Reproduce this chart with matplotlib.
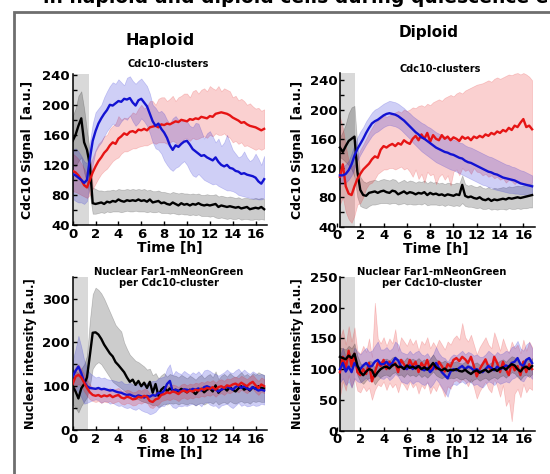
import numpy as np
import matplotlib
matplotlib.use("Agg")
import matplotlib.pyplot as plt
from matplotlib.patches import Rectangle
from matplotlib.ticker import MultipleLocator

plt.rcParams['font.family'] = ['DejaVu Sans']
plt.rcParams['font.weight'] = 'bold'

# ---------------- time grids ----------------
t_hap = np.arange(0, 16.76, 0.25)      # 0 .. 16.75 h
t_dip = np.arange(0.25, 16.76, 0.25)   # 0.25 .. 16.75 h

# ---------------- Haploid, Cdc10-clusters ----------------
hap_cdc_blue = [108,106,103,100,96,100,128,152, 165,175,182,188,193,200,199,202,
                205,204,208,207,209,203,199,206, 208,203,198,188,178,172,175,168,
                163,156,146,140,146,144,148,151, 152,147,141,138,135,132,133,130,
                128,126,130,124,120,118,120,116, 115,112,111,108,109,107,106,105,
                103,98,95,101]
hap_cdc_blue_lo = [75,72,70,70,68,72,95,120, 138,145,150,158,165,170,175,172,
                   172,178,182,180,186,178,172,176, 182,178,172,162,150,142,140,135,
                   126,120,115,112,116,118,122,125, 120,112,106,104,108,104,100,98,
                   96,94,95,92,90,88,86,86, 85,83,80,79,78,77,76,75,
                   75,74,74,76]
hap_cdc_blue_hi = [140,142,138,132,125,122,150,175, 190,195,200,210,218,225,230,228,
                   234,230,226,236,238,232,228,232, 235,230,225,215,200,196,190,192,
                   188,180,175,182,185,180,178,180, 178,172,170,176,175,165,155,162,
                   165,158,150,155,145,150,160,150, 140,135,130,132,138,130,125,128,
                   135,128,120,132]
hap_cdc_red = [112,110,106,100,93,90,100,110, 118,125,130,136,140,146,150,148,
               155,158,162,160,164,165,163,167, 166,168,166,170,171,172,170,174,
               173,175,174,176,178,177,180,179, 178,181,180,182,181,184,183,182,
               185,184,188,189,190,189,188,186, 183,181,179,176,177,174,172,171,
               170,168,166,168]
hap_cdc_red_lo = [85,84,82,80,78,76,80,88, 95,102,108,112,115,120,125,128,
                  130,135,138,138,140,142,142,144, 145,146,146,148,150,148,150,150,
                  150,148,150,152,150,146,150,155, 155,152,156,154,155,157,158,156,
                  160,158,162,160,160,162,158,156, 150,152,148,150,145,146,144,142,
                  140,142,140,142]
hap_cdc_red_hi = [135,132,128,122,115,108,118,130, 140,148,152,158,160,168,172,175,
                  185,180,183,182,185,190,188,195, 200,195,198,205,205,200,208,210,
                  210,205,208,212,205,210,212,215, 215,210,218,220,215,220,222,218,
                  225,222,220,225,218,222,220,218, 210,212,206,208,205,200,202,198,
                  195,196,192,194]
hap_cdc_black = [152,160,172,182,150,140,120,69, 68,69,70,68,71,70,72,71,
                 74,72,71,73,72,73,72,74, 72,73,71,74,70,71,72,69,
                 70,68,67,70,68,66,69,67, 68,66,68,67,69,67,66,67,
                 66,67,68,64,66,65,64,65, 64,63,64,62,63,64,61,62,
                 63,62,64,61]
hap_cdc_black_lo = [120,118,125,130,110,95,80,55, 55,56,57,56,58,57,58,58,
                    58,57,58,59,58,58,59,58, 58,58,57,58,57,57,58,56,
                    56,56,55,56,55,54,55,54, 54,53,54,53,54,52,52,52,
                    51,52,50,49,50,49,48,49, 48,48,49,47,48,48,47,47,
                    48,47,48,47]
hap_cdc_black_hi = [185,195,212,218,195,165,140,90, 88,86,86,85,86,86,87,86,
                    88,87,87,88,87,88,87,88, 87,88,86,87,85,85,86,84,
                    84,83,82,84,83,82,83,82, 82,81,82,81,82,80,80,81,
                    80,80,81,78,79,78,77,78, 77,76,77,75,76,76,75,75,
                    76,75,76,75]

# ---------------- Diploid, Cdc10-clusters ----------------
dip_cdc_black = [148,142,150,157,160,163,115,90, 83,82,86,87,88,86,88,89,
                 87,86,89,88,84,86,88,85, 87,86,84,86,85,87,83,86,
                 84,85,83,84,82,84,83,82, 84,83,97,82,80,81,79,78,
                 80,77,76,78,75,77,76,77, 78,77,79,78,79,80,79,80,
                 81,82,83]
dip_cdc_black_lo = [135,132,128,124,118,108,80,68, 66,65,68,70,70,71,72,72,
                    72,71,72,72,70,71,72,70, 71,70,70,71,70,72,69,70,
                    70,70,69,70,68,70,69,68, 69,68,72,68,67,67,66,65,
                    66,64,64,65,63,64,63,64, 64,63,65,64,64,65,64,65,
                    65,66,66]
dip_cdc_black_hi = [162,170,180,195,203,205,150,108, 102,100,102,103,104,102,104,105,
                    104,103,105,104,100,102,104,101, 103,102,100,102,101,103,99,102,
                    100,101,99,100,98,100,99,98, 100,99,110,98,96,97,95,94,
                    96,93,92,94,91,93,92,93, 94,93,95,94,95,96,95,96,
                    97,98,98]
dip_cdc_blue = [110,110,112,117,125,137,146,153, 160,168,175,181,184,186,189,192,
                194,195,194,193,191,188,185,181, 177,173,169,166,162,160,157,154,
                151,148,146,144,142,141,139,138, 136,134,133,130,128,127,125,123,
                121,119,117,115,114,112,111,109, 107,106,105,104,103,101,99,98,
                97,96,95]
dip_cdc_blue_lo = [98,98,100,104,110,120,130,138, 145,152,158,164,168,170,173,176,
                   178,179,178,177,175,172,168,164, 160,155,151,147,143,140,137,134,
                   131,128,126,124,122,120,118,117, 115,113,111,109,107,105,103,101,
                   99,97,96,94,93,91,90,89, 88,87,86,86,85,85,84,84,
                   83,83,83]
dip_cdc_blue_hi = [122,122,125,130,140,152,162,170, 176,184,190,196,200,202,205,208,
                   210,212,211,210,208,205,202,198, 195,191,188,185,182,180,177,175,
                   172,169,167,165,163,162,160,159, 157,155,154,151,149,148,146,144,
                   142,140,138,136,135,133,131,129, 127,125,124,122,121,119,117,116,
                   114,112,110]
dip_cdc_red = [108,125,95,85,83,95,105,112, 118,122,126,132,136,134,145,150,
               148,151,153,150,154,152,158,155, 153,160,164,158,166,160,168,156,
               165,160,158,165,160,163,158,162, 160,157,163,160,162,158,163,161,
               164,162,166,164,168,166,170,168, 172,170,175,172,178,176,182,187,
               176,178,173]
dip_cdc_red_lo = [70,80,60,50,45,55,70,72, 80,92,98,100,105,112,115,118,
                  118,120,120,118,120,122,118,120, 115,108,118,105,112,100,115,110,
                  112,98,108,112,104,110,96,115, 118,110,120,116,118,112,120,115,
                  114,110,112,108,110,106,108,104, 106,100,104,102,98,102,100,98,
                  100,98,100]
dip_cdc_red_hi = [190,175,150,130,122,125,135,145, 152,160,168,175,182,185,188,192,
                  190,192,194,196,198,196,200,198, 200,203,202,205,206,204,208,206,
                  210,212,214,212,216,218,220,218, 222,224,222,226,228,230,232,234,
                  235,236,238,240,238,242,244,242, 244,246,248,247,249,250,248,250,
                  248,245,240]

# ---------------- Haploid, nuclear Far1 ----------------
hap_far_black = [100,88,72,95,105,120,170,222, 223,218,208,195,185,175,168,155,
                 148,140,132,120,110,115,103,112, 100,108,96,110,85,105,78,92,
                 98,88,95,90,92,88,94,90, 86,92,88,82,90,94,86,92,
                 95,88,102,85,92,96,90,98, 92,88,95,100,92,96,90,98,
                 94,100,96,95]
hap_far_black_lo = [60,50,40,55,65,75,100,140, 150,155,150,140,130,120,110,105,
                    100,95,90,85,80,76,72,70, 66,64,62,60,56,58,52,56,
                    60,58,62,60,62,58,62,60, 58,62,60,56,60,62,58,62,
                    64,60,66,58,62,64,60,66, 62,60,64,66,62,64,60,66,
                    64,66,64,64]
hap_far_black_hi = [140,135,130,140,150,170,250,310, 325,320,312,300,285,270,255,240,
                    232,225,200,185,172,165,158,155, 150,145,138,140,125,130,118,125,
                    130,122,128,125,124,120,126,122, 118,124,120,115,122,126,118,124,
                    128,120,134,116,124,128,122,130, 124,120,126,132,124,128,122,130,
                    126,132,128,126]
hap_far_blue = [122,135,145,130,110,100,96,95, 94,96,93,94,92,90,91,88,
                86,85,82,80,81,78,76,79, 77,74,78,76,80,78,85,83,
                90,105,112,88,92,90,88,93, 92,90,94,92,95,90,98,100,
                97,94,92,88,92,95,100,96, 92,98,102,96,100,95,92,98,
                94,90,92,90]
hap_far_blue_lo = [90,95,85,75,60,62,65,68, 70,68,62,66,65,60,62,58,
                   55,56,52,50,52,48,46,50, 45,42,40,36,38,42,50,55,
                   55,62,60,52,50,55,54,56, 55,58,60,56,60,54,62,64,
                   58,55,56,50,56,58,60,54, 50,56,62,55,58,54,55,58,
                   55,56,60,58]
hap_far_blue_hi = [160,185,215,190,160,140,130,125, 120,122,118,120,116,115,114,112,
                   110,112,106,105,108,104,102,106, 105,103,108,110,112,112,118,120,
                   122,140,150,125,135,130,128,135, 130,126,132,128,134,126,136,138,
                   135,130,128,124,128,132,138,132, 130,136,140,132,138,132,128,134,
                   130,126,128,125]
hap_far_red = [105,122,126,120,108,96,86,80, 78,80,76,79,77,80,75,78,
               80,74,72,76,74,70,71,76, 74,78,76,66,64,70,72,80,
               82,86,84,88,86,82,88,90, 86,90,88,92,90,94,92,96,
               94,98,92,98,100,96,102,100, 104,106,102,108,104,100,106,110,
               102,96,104,100]
hap_far_red_lo = [85,100,105,100,88,78,70,66, 64,66,62,65,63,66,61,64,
                  66,60,58,62,60,56,57,62, 60,64,62,52,50,56,58,66,
                  68,70,68,72,70,66,72,74, 70,74,72,76,74,78,76,80,
                  78,82,76,82,84,80,86,84, 88,90,86,92,88,84,90,94,
                  86,80,88,84]
hap_far_red_hi = [128,145,150,140,128,116,104,96, 94,96,92,95,93,96,91,94,
                  96,90,88,92,90,86,87,92, 90,94,92,82,80,86,88,96,
                  98,102,100,104,102,98,104,106, 102,106,104,108,106,110,108,112,
                  110,114,108,114,116,112,118,116, 120,122,118,124,120,116,122,126,
                  118,112,120,116]

# ---------------- Diploid, nuclear Far1 ----------------
dip_far_black = [120,118,116,122,118,125,106,95, 90,96,100,98,88,95,100,103,
                 104,101,106,108,103,104,100,106, 102,104,101,105,100,103,99,104,
                 110,103,100,98,101,97,99,98, 100,97,96,99,95,92,96,98,
                 94,97,99,95,98,100,97,101, 103,99,104,108,106,100,96,102,
                 104,100,105]
dip_far_black_lo = [105,102,100,106,102,108,90,80, 76,82,86,84,75,82,87,90,
                    91,88,93,95,90,91,87,93, 89,91,88,92,87,90,86,91,
                    96,90,87,85,88,84,86,85, 87,84,83,86,82,79,83,85,
                    81,84,86,82,85,87,84,88, 90,86,91,95,93,87,83,89,
                    91,87,92]
dip_far_black_hi = [135,134,132,138,134,142,122,110, 104,110,114,112,101,108,113,116,
                    117,114,119,121,116,117,113,119, 115,117,114,118,113,116,112,117,
                    124,116,113,111,114,110,112,111, 113,110,109,112,108,105,109,111,
                    107,110,112,108,111,113,110,114, 116,112,117,121,119,113,109,115,
                    117,113,118]
dip_far_blue = [100,110,96,104,95,110,104,100, 106,110,104,105,112,115,108,108,
                112,106,110,118,114,104,102,100, 106,100,104,105,100,98,102,95,
                100,110,102,95,90,85,96,100, 98,102,105,100,104,102,98,100,
                96,95,100,105,102,98,104,100, 102,106,104,110,112,118,108,105,
                115,118,110]
dip_far_blue_lo = [78,85,74,80,70,85,80,78, 82,86,80,82,88,90,85,84,
                   88,82,86,92,88,80,78,76, 82,76,80,80,76,74,78,70,
                   76,84,78,70,62,55,72,76, 74,78,80,76,80,78,74,76,
                   72,70,76,80,78,74,80,76, 78,80,78,84,86,90,82,80,
                   88,90,84]
dip_far_blue_hi = [122,135,120,128,120,135,128,124, 130,135,128,130,138,145,132,132,
                   136,130,134,145,140,128,126,124, 130,124,128,130,124,122,126,118,
                   124,136,126,120,118,112,120,124, 122,126,130,124,128,126,122,124,
                   120,120,124,130,126,122,128,124, 126,130,128,136,138,146,134,130,
                   140,144,134]
dip_far_red = [95,120,100,130,105,125,95,90, 100,92,110,80,95,110,105,115,
               100,112,105,110,95,115,108,100, 115,105,112,95,110,103,115,98,
               108,100,112,105,96,108,104,115, 118,113,120,116,110,120,105,88,
               100,108,116,104,98,120,110,95, 112,100,90,110,98,105,90,112,
               95,108,100]
dip_far_red_lo = [55,80,65,90,70,85,65,62, 72,64,70,50,66,75,72,80,
                  66,78,70,76,62,80,74,66, 80,70,76,60,74,68,80,60,
                  72,64,76,68,55,72,68,80, 82,78,84,80,72,84,70,52,
                  64,72,80,68,62,84,72,55, 74,40,50,15,60,68,54,76,
                  62,70,66]
dip_far_red_hi = [150,165,140,170,145,168,130,125, 138,128,150,120,208,150,142,152,
                  138,150,142,165,130,152,145,138, 150,140,148,130,146,140,152,134,
                  144,136,148,140,132,145,140,150, 155,148,175,152,145,156,140,124,
                  136,144,152,140,134,160,146,130, 150,136,126,145,134,140,126,148,
                  130,145,136]

# ---------------- text ----------------
xlabel = "Time [h]"
panel_titles = ["Cdc10-clusters", "Cdc10-clusters",
                "Nuclear Far1-mNeonGreen\nper Cdc10-cluster",
                "Nuclear Far1-mNeonGreen\nper Cdc10-cluster"]
ylabels = ["Cdc10 Signal  [a.u.]", "Cdc10 Signal  [a.u.]",
           "Nuclear intensity [a.u.]", "Nuclear intensity [a.u.]"]

BLUE = '#1212d2'
RED = '#e61414'
BLACK = '#000000'

W, H = 550, 474
fig = plt.figure(figsize=(W / 100, H / 100), dpi=100)
fig.patch.set_facecolor('white')

def fbox(l, r, top, bot):
    return [l / W, 1 - bot / H, (r - l) / W, (bot - top) / H]

# frame border and cut-off header
fig.add_artist(Rectangle((13.5 / W, -0.2), 1.0, 1.2 - 11.5 / H, transform=fig.transFigure,
                         fill=False, edgecolor='#6e6e6e', linewidth=2.0))
fig.text(148 / W, 1 - 3.0 / H, "in haploid", ha='right', va='baseline', fontsize=13.5,
         fontweight='bold')
fig.text(155 / W, 1 - 3.0 / H, "and diploid cells during quiescence entry", ha='left',
         va='baseline', fontsize=13.5, fontweight='bold')
fig.text(160 / W, 1 - 40 / H, "Haploid", ha='center', va='center', fontsize=11.5,
         fontweight='bold')
fig.text(429 / W, 1 - 32 / H, "Diploid", ha='center', va='center', fontsize=11,
         fontweight='bold')

panels = [
    dict(box=fbox(72.7, 267, 74, 225), xlim=(0, 17), spine=0, ylim=(40, 241),
         yt=[40, 80, 120, 160, 200, 240], ym=20, gray=1.4, t=t_hap,
         series=[(hap_cdc_black, hap_cdc_black_lo, hap_cdc_black_hi, BLACK),
                 (hap_cdc_red, hap_cdc_red_lo, hap_cdc_red_hi, RED),
                 (hap_cdc_blue, hap_cdc_blue_lo, hap_cdc_blue_hi, BLUE)],
         title_xy=(168, 64), ylab_x=27),
    dict(box=fbox(337, 535, 73, 226.5), xlim=(0, 17), spine=0.25, ylim=(40, 250),
         yt=[40, 80, 120, 160, 200, 240], ym=20, gray=1.55, t=t_dip,
         series=[(dip_cdc_black, dip_cdc_black_lo, dip_cdc_black_hi, BLACK),
                 (dip_cdc_red, dip_cdc_red_lo, dip_cdc_red_hi, RED),
                 (dip_cdc_blue, dip_cdc_blue_lo, dip_cdc_blue_hi, BLUE)],
         title_xy=(440, 69), ylab_x=298),
    dict(box=fbox(72.7, 267, 276.7, 430), xlim=(0, 17), spine=0, ylim=(0, 350),
         yt=[0, 100, 200, 300], ym=50, gray=1.35, t=t_hap,
         series=[(hap_far_black, hap_far_black_lo, hap_far_black_hi, BLACK),
                 (hap_far_blue, hap_far_blue_lo, hap_far_blue_hi, BLUE),
                 (hap_far_red, hap_far_red_lo, hap_far_red_hi, RED)],
         title_xy=(169, 267), ylab_x=31),
    dict(box=fbox(337, 535, 277, 430.5), xlim=(0, 17), spine=0.25, ylim=(0, 250),
         yt=[0, 50, 100, 150, 200, 250], ym=None, gray=1.55, t=t_dip,
         series=[(dip_far_red, dip_far_red_lo, dip_far_red_hi, RED),
                 (dip_far_blue, dip_far_blue_lo, dip_far_blue_hi, BLUE),
                 (dip_far_black, dip_far_black_lo, dip_far_black_hi, BLACK)],
         title_xy=(432, 267), ylab_x=298),
]

for i, p in enumerate(panels):
    ax = fig.add_axes(p['box'])
    ax.set_xlim(*p['xlim'])
    ax.set_ylim(*p['ylim'])
    ax.axvspan(p['spine'], p['gray'], color='#d9d9d9', zorder=0, lw=0)
    for m, lo, hi, c in p['series']:
        ax.fill_between(p['t'], lo, hi, facecolor=c, alpha=0.2, edgecolor=c,
                        linewidth=0.5, zorder=1)
    for m, lo, hi, c in p['series']:
        ax.plot(p['t'], m, color=c, lw=1.7, zorder=3)
    for s in ('top', 'right'):
        ax.spines[s].set_visible(False)
    ax.spines['left'].set_position(('data', p['spine']))
    ax.spines['bottom'].set_bounds(p['spine'], p['xlim'][1])
    for s in ('left', 'bottom'):
        ax.spines[s].set_linewidth(1.1)
    ax.set_xticks([0, 2, 4, 6, 8, 10, 12, 14, 16])
    ax.set_yticks(p['yt'])
    if p['ym']:
        ax.yaxis.set_minor_locator(MultipleLocator(p['ym']))
    ax.tick_params(direction='in', length=3, width=1, labelsize=9.5, pad=2)
    ax.tick_params(which='minor', direction='in', length=3, width=1)
    for lab in ax.get_xticklabels() + ax.get_yticklabels():
        lab.set_fontweight('bold')
    ax.set_xlabel(xlabel, fontsize=10, fontweight='bold', labelpad=0)
    ax.set_facecolor('none')
    tx, ty = p['title_xy']
    fig.text(tx / W, 1 - ty / H, panel_titles[i], ha='center',
             va='center' if i < 2 else 'top', fontsize=7 if i < 2 else 7.2,
             fontweight='bold', linespacing=1.15)
    box = p['box']
    fig.text(p['ylab_x'] / W, box[1] + box[3] / 2, ylabels[i], rotation=90,
             ha='center', va='center', fontsize=9 if i < 2 else 8.3,
             fontweight='bold')

fig.savefig('out.png', dpi=100, facecolor='white')
